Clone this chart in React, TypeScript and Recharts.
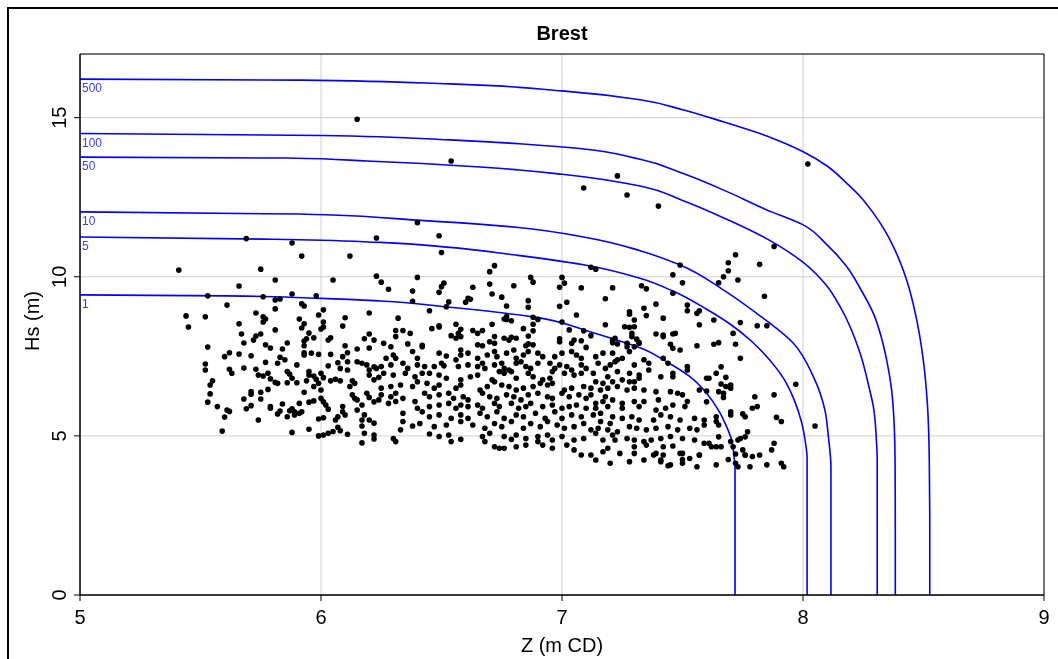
import React from 'react';
import { ComposedChart, Scatter, Line, XAxis, YAxis, CartesianGrid, ReferenceArea } from 'recharts';

type P = [number, number];

const titleText = 'Brest';
const xLabel = 'Z (m CD)';
const yLabel = 'Hs (m)';
const xTicks = [5, 6, 7, 8, 9];
const yTicks = [0, 5, 10, 15];
const xDomain: [number, number] = [5, 9];
const yDomain: [number, number] = [0, 17];

// Joint-probability contours (return period in years)
const curve1: P[] = [[5.0,9.43],[5.6,9.40],[6.0,9.32],[6.245,9.24],[6.523,9.05],[6.88,8.74],[7.116,8.27],[7.227,8.01],[7.324,7.77],[7.434,7.33],[7.531,6.86],[7.6,6.34],[7.649,5.81],[7.683,5.29],[7.704,4.87],[7.714,4.35],[7.718,3.93],[7.718,2.0],[7.718,0]];
const curve5: P[] = [[5.0,11.25],[5.8,11.18],[6.245,11.08],[6.522,10.93],[6.798,10.69],[7.116,10.34],[7.324,9.95],[7.46,9.55],[7.6,8.98],[7.7,8.5],[7.79,7.95],[7.86,7.4],[7.92,6.8],[7.965,6.1],[7.995,5.4],[8.01,4.8],[8.017,4.3],[8.017,2.0],[8.017,0]];
const curve10: P[] = [[5.0,12.04],[5.91,11.97],[6.397,11.78],[6.743,11.6],[7.116,11.21],[7.324,10.82],[7.49,10.37],[7.669,9.59],[7.808,8.85],[7.96,7.91],[8.043,6.86],[8.091,5.81],[8.105,5.0],[8.116,4.0],[8.116,2.0],[8.116,0]];
const curve50: P[] = [[5.0,13.76],[5.86,13.73],[6.19,13.64],[6.66,13.45],[7.0,13.22],[7.324,12.85],[7.5,12.4],[7.7,11.75],[7.86,11.15],[8.001,10.45],[8.1,9.7],[8.154,9.06],[8.237,7.6],[8.275,6.5],[8.292,5.92],[8.305,4.8],[8.308,4.24],[8.308,2.0],[8.308,0]];
const curve100: P[] = [[5.0,14.5],[6.0,14.44],[6.535,14.3],[7.0,14.08],[7.324,13.69],[7.5,13.25],[7.669,12.73],[7.85,12.1],[8.001,11.63],[8.1,11.0],[8.181,10.32],[8.24,9.6],[8.292,8.85],[8.325,8.1],[8.347,7.39],[8.365,6.6],[8.375,5.81],[8.382,4.24],[8.383,2.0],[8.383,0]];
const curve500: P[] = [[5.0,16.21],[5.913,16.18],[6.535,16.06],[7.0,15.84],[7.324,15.56],[7.5,15.25],[7.669,14.87],[7.85,14.42],[8.001,13.93],[8.1,13.48],[8.181,12.94],[8.24,12.5],[8.292,12.0],[8.34,11.45],[8.375,10.95],[8.43,9.9],[8.472,8.64],[8.499,7.39],[8.516,6.02],[8.524,4.24],[8.526,2.0],[8.526,0]];
const returnPeriods = ['1', '5', '10', '50', '100', '500'];
const contourSets: P[][] = [curve1, curve5, curve10, curve50, curve100, curve500];

// Observed events (Z, Hs)
const topOutliers: P[] = [[6.15,14.95],[6.54,13.64],[7.09,12.79],[7.23,13.17],[7.27,12.57],[7.40,12.22],[8.02,13.54],[6.40,11.70],[6.49,11.29],[6.50,10.76],[6.23,11.22],[5.69,11.20],[5.88,11.06],[5.92,10.65],[6.12,10.65],[5.41,10.21],[5.75,10.24],[6.70,10.16],[6.72,10.35]];
const leftUpper: P[] = [[5.81,9.90],[6.05,9.90],[6.23,10.02],[5.66,9.71],[5.53,9.40],[5.76,9.37],[5.81,9.27],[5.83,9.30],[5.88,9.46],[5.98,9.40],[5.61,9.11],[5.92,9.15],[5.93,9.08],[5.81,8.99],[6.01,8.96],[5.73,8.86],[5.99,8.80],[6.20,8.86],[5.44,8.77],[5.52,8.74],[5.76,8.74],[5.77,8.67],[5.76,8.58],[5.91,8.67],[6.10,8.71],[6.01,8.58],[6.01,8.42],[5.45,8.42],[5.66,8.52],[5.93,8.52],[5.92,8.39],[6.09,8.45],[5.81,8.33],[6.00,8.36],[5.95,8.23],[5.67,8.20],[5.75,8.20],[5.73,8.14],[5.72,8.01],[6.20,8.20],[5.97,8.08],[5.94,8.05],[5.93,7.98],[6.04,8.08],[6.03,8.01],[6.18,8.05],[6.22,8.01],[5.68,7.92],[5.86,7.92],[5.53,7.79],[5.77,7.86],[5.79,7.76],[5.84,7.73],[5.93,7.83],[6.10,7.83],[6.15,7.73],[6.20,7.76]];
const leftLower: P[] = [[5.60,7.49],[5.62,7.61],[5.66,7.57],[5.71,7.52],[5.52,7.26],[5.52,7.07],[5.62,7.09],[5.63,6.97],[5.68,7.13],[5.73,7.09],[5.77,7.31],[5.82,7.28],[5.83,7.47],[5.85,7.39],[5.90,7.23],[5.93,7.54],[5.93,7.61],[5.96,7.60],[5.99,7.56],[6.04,7.56],[6.09,7.49],[6.11,7.61],[6.11,7.33],[6.07,7.30],[6.08,7.12],[6.03,7.20],[6.15,7.33],[6.17,7.28],[6.19,7.23],[6.20,7.07],[6.22,7.17],[6.23,7.12],[5.74,6.91],[5.78,6.97],[5.76,6.88],[5.79,6.79],[5.81,6.68],[5.82,6.65],[5.86,7.02],[5.87,6.94],[5.88,6.81],[5.86,6.67],[5.90,6.67],[5.95,7.02],[5.95,6.91],[5.94,6.73],[5.97,6.88],[5.98,6.78],[6.00,6.97],[6.01,6.83],[6.04,6.73],[6.06,6.78],[6.08,6.73],[6.11,7.07],[6.13,6.73],[6.14,6.65],[6.12,6.55],[6.20,6.91],[6.22,6.76],[6.24,6.84],[5.55,6.73],[5.54,6.60],[5.54,6.32],[5.53,6.06],[5.57,5.92],[5.61,5.81],[5.62,5.77],[5.60,5.59],[5.59,5.15],[5.68,6.16],[5.71,6.39],[5.71,6.31],[5.75,6.37],[5.78,6.46],[5.75,6.16],[5.69,5.85],[5.71,5.95],[5.79,5.92],[5.79,5.87],[5.74,5.50],[5.82,5.69],[5.83,5.78],[5.84,6.00],[5.86,5.60],[5.87,5.79],[5.88,5.85],[5.89,5.76],[5.91,5.71],[5.92,5.76],[5.89,5.66],[5.88,5.11],[5.91,6.02],[5.93,6.37],[5.95,6.06],[5.97,6.10],[5.95,5.21],[5.97,6.55],[5.99,6.65],[6.00,6.44],[6.00,6.18],[6.01,6.07],[6.02,5.97],[6.03,5.84],[5.99,5.53],[6.01,5.57],[5.99,5.00],[6.01,5.03],[6.03,5.08],[6.05,5.14],[6.07,5.27],[6.08,5.16],[6.06,5.50],[6.07,5.60],[6.09,5.92],[6.09,5.76],[6.10,5.66],[6.11,5.05],[6.13,6.29],[6.14,6.18],[6.15,6.13],[6.17,5.97],[6.19,6.34],[6.20,6.21],[6.22,6.07],[6.24,6.13],[6.15,5.81],[6.18,5.66],[6.17,5.50],[6.20,5.50],[6.22,5.40],[6.17,5.31],[6.18,5.08],[6.22,5.03],[6.22,4.90],[6.17,4.78]];
const midUpper: P[] = [[6.25,9.83],[6.28,9.61],[6.40,9.98],[6.51,9.80],[6.50,9.69],[6.49,9.51],[6.38,9.55],[6.38,9.23],[6.63,9.67],[6.70,9.77],[6.71,9.46],[6.80,9.72],[6.87,9.98],[6.88,9.83],[7.00,9.98],[7.01,9.80],[6.99,9.67],[7.08,9.65],[6.75,9.36],[6.86,9.25],[6.86,9.04],[7.02,9.20],[6.99,9.07],[6.61,9.32],[6.62,9.29],[6.60,9.20],[6.53,9.21],[6.52,9.06],[6.45,8.93],[6.77,9.08],[6.32,8.70],[6.77,8.75],[6.77,8.66],[6.76,8.67],[6.79,8.62],[6.88,8.73],[6.90,8.66],[7.06,8.80],[7.00,8.58],[6.88,8.51],[6.31,8.31],[6.34,8.31],[6.31,8.12],[6.37,8.22],[6.46,8.37],[6.49,8.46],[6.49,8.42],[6.56,8.51],[6.58,8.35],[6.57,8.22],[6.63,8.31],[6.65,8.22],[6.67,8.31],[6.71,8.51],[6.84,8.37],[6.88,8.30],[6.86,8.14],[7.03,8.33],[7.09,8.30],[6.54,8.15],[6.58,8.12],[6.56,8.07],[6.72,8.12],[6.76,8.07],[6.78,8.01],[6.79,8.10],[6.81,8.07],[6.99,8.05],[6.99,7.96],[7.05,8.01],[7.04,7.91],[7.08,7.99],[6.26,7.91],[6.29,7.80],[6.36,7.89],[6.42,7.80],[6.42,7.85],[6.65,7.86],[6.67,7.83],[6.70,7.96],[6.72,7.91],[6.85,7.83],[6.88,7.86],[6.86,7.89],[7.10,7.78]];
const midLower: P[] = [[6.27,7.44],[6.30,7.54],[6.31,7.44],[6.38,7.65],[6.40,7.44],[6.49,7.60],[6.52,7.51],[6.58,7.70],[6.58,7.54],[6.61,7.60],[6.65,7.44],[6.69,7.54],[6.72,7.65],[6.73,7.49],[6.77,7.60],[6.80,7.70],[6.81,7.44],[6.84,7.54],[6.86,7.65],[6.90,7.60],[6.92,7.49],[6.97,7.49],[7.00,7.60],[7.04,7.65],[7.06,7.54],[7.08,7.44],
[6.25,7.18],[6.29,7.23],[6.34,7.28],[6.36,7.12],[6.40,7.23],[6.43,7.18],[6.47,7.18],[6.50,7.28],[6.51,7.20],[6.56,7.39],[6.57,7.18],[6.61,7.23],[6.65,7.18],[6.67,7.28],[6.68,7.12],[6.72,7.23],[6.75,7.28],[6.76,7.12],[6.78,7.07],[6.81,7.28],[6.83,7.33],[6.85,7.18],[6.87,7.12],[6.90,7.28],[6.95,7.28],[6.97,7.12],[6.99,7.23],[7.02,7.18],[7.04,7.07],[7.08,7.23],[7.10,7.12],
[6.26,6.97],[6.30,6.91],[6.35,6.97],[6.39,6.86],[6.42,6.97],[6.45,6.97],[6.49,6.91],[6.52,6.81],[6.58,6.76],[6.62,6.86],[6.65,6.91],[6.71,6.76],[6.74,7.02],[6.76,6.97],[6.79,7.02],[6.81,6.81],[6.86,6.97],[6.88,6.86],[6.92,6.76],[6.95,6.81],[6.96,7.02],[7.01,6.97],[7.05,6.91],[7.08,6.97],
[6.25,6.50],[6.29,6.55],[6.33,6.60],[6.38,6.55],[6.40,6.70],[6.44,6.65],[6.47,6.50],[6.49,6.60],[6.56,6.50],[6.58,6.60],[6.66,6.44],[6.69,6.55],[6.72,6.70],[6.75,6.60],[6.78,6.55],[6.81,6.44],[6.84,6.50],[6.88,6.55],[6.91,6.65],[6.94,6.60],[6.96,6.65],[7.01,6.44],[7.04,6.50],[7.09,6.55],
[6.25,6.29],[6.29,6.23],[6.31,6.34],[6.34,6.18],[6.39,6.08],[6.43,6.34],[6.45,6.23],[6.49,6.29],[6.53,6.34],[6.55,6.18],[6.59,6.23],[6.61,6.13],[6.67,6.34],[6.70,6.23],[6.73,6.18],[6.77,6.29],[6.80,6.23],[6.83,6.13],[6.86,6.29],[6.90,6.34],[6.94,6.23],[6.96,6.18],[7.00,6.34],[7.03,6.23],[7.07,6.29],[7.10,6.18],
[6.28,6.02],[6.31,6.08],[6.40,5.87],[6.45,5.92],[6.49,5.97],[6.53,6.02],[6.56,5.87],[6.58,5.97],[6.61,5.92],[6.65,5.97],[6.67,5.87],[6.72,6.02],[6.74,5.92],[6.79,6.02],[6.82,5.87],[6.85,5.92],[6.87,6.02],[6.92,5.92],[6.96,5.97],[7.00,5.87],[7.03,5.92],[7.06,5.97],[7.10,5.87],
[6.34,5.71],[6.42,5.76],[6.45,5.60],[6.49,5.66],[6.54,5.55],[6.58,5.66],[6.61,5.55],[6.66,5.71],[6.69,5.60],[6.73,5.76],[6.76,5.55],[6.81,5.66],[6.84,5.60],[6.89,5.71],[6.93,5.55],[6.97,5.76],[7.00,5.55],[7.04,5.66],[7.08,5.60],
[6.34,5.45],[6.38,5.31],[6.41,5.39],[6.47,5.29],[6.52,5.34],[6.58,5.45],[6.63,5.34],[6.68,5.24],[6.72,5.39],[6.75,5.29],[6.79,5.45],[6.84,5.24],[6.87,5.39],[6.91,5.29],[6.94,5.45],[6.98,5.34],[7.01,5.24],[7.05,5.29],[7.09,5.39],
[6.30,4.92],[6.33,5.19],[6.45,5.06],[6.49,4.98],[6.53,5.03],[6.54,4.82],[6.58,4.89],[6.67,4.98],[6.70,5.08],[6.76,4.98],[6.79,4.89],[6.81,5.03],[6.85,4.92],[6.90,4.98],[6.94,5.03],[6.96,4.87],[7.00,4.98],[7.05,4.87],[7.09,4.92],
[6.31,4.82],[6.68,4.82],[6.72,4.66],[6.74,4.61],[6.76,4.61],[6.81,4.66],[6.85,4.71],[6.90,4.82],[6.92,4.71],[6.96,4.61],[7.02,4.71],[7.05,4.56],[7.08,4.40]];
const rightUpper: P[] = [[7.88,10.95],[7.72,10.69],[7.82,10.39],[7.69,10.44],[7.69,10.19],[7.67,10.00],[7.73,9.90],[7.65,9.81],[7.49,10.37],[7.46,10.06],[7.50,9.81],[7.12,10.30],[7.14,10.24],[7.21,9.65],[7.33,9.72],[7.35,9.62],[7.18,9.31],[7.46,9.48],[7.84,9.39],[7.52,9.11],[7.52,8.93],[7.57,8.93],[7.56,8.85],[7.39,9.14],[7.34,9.01],[7.35,8.78],[7.28,8.90],[7.28,8.82],[7.30,8.64],[7.42,8.70],[7.63,8.64],[7.74,8.56],[7.81,8.46],[7.85,8.46],[7.57,8.49],[7.18,8.49],[7.26,8.43],[7.28,8.41],[7.30,8.43],[7.29,8.22],[7.29,8.12],[7.31,8.04],[7.32,7.91],[7.12,8.15],[7.22,8.07],[7.21,8.01],[7.23,7.89],[7.27,7.80],[7.39,8.20],[7.42,8.17],[7.42,8.12],[7.46,8.20],[7.47,8.22],[7.71,8.22],[7.45,7.88],[7.46,7.75],[7.56,7.83],[7.63,7.88],[7.65,7.93],[7.72,7.88],[7.49,7.70]];
const rightDense: P[] = [[7.21,7.93],[7.27,7.91],[7.30,7.80],[7.32,7.93],[7.14,7.49],[7.17,7.60],[7.21,7.60],[7.28,7.65],[7.22,7.33],[7.25,7.44],
[7.15,7.28],[7.20,7.23],[7.23,7.39],[7.30,7.23],[7.34,7.39],[7.36,7.28],[7.42,7.44],[7.44,7.28],[7.36,7.07],[7.18,7.12],[7.13,6.97],[7.19,6.86],[7.23,7.02],
[7.28,6.97],[7.32,6.91],[7.25,6.76],[7.28,6.70],[7.30,6.70],[7.32,6.81],[7.14,6.70],[7.17,6.65],[7.21,6.70],[7.41,6.86],[7.46,6.86],[7.46,6.97],[7.52,7.07],[7.52,7.18],
[7.12,6.50],[7.16,6.44],[7.19,6.50],[7.23,6.55],[7.27,6.44],[7.30,6.50],[7.34,6.44],[7.39,6.39],[7.45,6.39],[7.48,6.34],[7.50,6.29],[7.12,6.29],[7.18,6.23],
[7.14,6.02],[7.17,6.08],[7.21,6.13],[7.25,6.02],[7.30,6.08],[7.34,6.08],[7.40,6.13],[7.46,5.97],[7.52,6.08],[7.51,5.92],[7.14,5.87],[7.19,5.92],[7.25,5.87],[7.32,5.92],[7.39,5.81],[7.43,5.87],
[7.13,5.66],[7.16,5.71],[7.21,5.60],[7.25,5.55],[7.29,5.60],[7.32,5.50],[7.38,5.50],[7.41,5.66],[7.45,5.60],[7.49,5.50],[7.55,5.55],[7.59,5.50],[7.16,5.45],[7.20,5.39],
[7.12,5.19],[7.15,5.24],[7.19,5.19],[7.23,5.13],[7.28,5.29],[7.31,5.24],[7.35,5.19],[7.39,5.24],[7.44,5.29],[7.48,5.19],[7.53,5.24],[7.56,5.19],[7.59,5.34],[7.21,5.03],[7.14,5.08],
[7.17,4.87],[7.22,4.87],[7.27,4.92],[7.30,4.87],[7.34,4.82],[7.37,4.87],[7.41,4.92],[7.45,4.98],[7.50,4.92],[7.55,4.87],[7.59,4.77],[7.62,4.66],[7.19,4.61],[7.30,4.66],[7.35,4.71],[7.42,4.66],[7.46,4.68],
[7.12,4.40],[7.17,4.50],[7.24,4.45],[7.30,4.45],[7.38,4.40],[7.42,4.40],[7.49,4.45],[7.53,4.29],[7.57,4.40],[7.14,4.24],[7.20,4.14],[7.28,4.19],[7.34,4.24],[7.41,4.24],[7.45,4.09],[7.50,4.14],[7.56,4.03]];
const rightEdge: P[] = [[7.74,7.44],[7.66,7.17],[7.64,6.97],[7.61,6.81],[7.60,6.81],[7.68,6.84],[7.66,6.63],[7.68,6.55],[7.70,6.50],[7.70,6.60],[7.65,6.39],[7.67,6.34],[7.67,6.21],[7.60,6.41],[7.57,6.44],[7.60,6.07],[7.80,6.23],[7.88,6.29],[7.97,6.62],[7.81,5.92],[7.79,5.87],[7.70,5.76],[7.70,5.66],[7.75,5.69],[7.76,5.60],[7.64,5.60],[7.64,5.45],[7.65,5.34],[7.89,5.58],[7.91,5.45],[7.77,5.13],[7.76,4.97],[7.74,4.92],[7.73,4.87],[7.70,4.82],[7.71,4.66],[7.75,4.56],[7.65,4.97],[7.66,4.66],[7.64,4.66],[7.61,4.77],[7.88,4.77],[7.87,4.56],[7.79,4.35],[7.76,4.40],[7.82,4.40],[7.85,4.09],[7.91,4.14],[7.92,4.03],[7.69,4.26],[7.64,4.09],[7.73,4.03],[7.78,4.03],[8.05,5.31],[7.39,4.45],[7.50,4.45],[7.57,4.40],[7.41,4.19],[7.44,4.06],[7.50,4.26],[7.72,4.43],[7.72,4.14],[7.76,4.40]];

const eventSets: P[][] = [topOutliers, leftUpper, leftLower, midUpper, midLower, rightUpper, rightDense, rightEdge];

const toXY = (arr: P[]) => arr.map(([x, y]) => ({ x, y }));
const points = eventSets.flatMap(toXY);
const contourLabels = contourSets.map((c, i) => ({ x: c[0][0], y: c[0][1], label: returnPeriods[i] }));

const FONT = '"Liberation Sans", Arial, sans-serif';

const XTick = (props: any) => {
  const { x, y, payload } = props;
  return (
    <text x={x} y={y + 23} textAnchor="middle" fontSize={20} fontFamily={FONT} fill="#000">
      {payload.value}
    </text>
  );
};

const YTick = (props: any) => {
  const { x, y, payload } = props;
  const bx = x - 8;
  return (
    <text x={bx} y={y} transform={`rotate(-90 ${bx} ${y})`} textAnchor="middle" fontSize={20} fontFamily={FONT} fill="#000">
      {payload.value}
    </text>
  );
};

const Dot = (props: any) => {
  const { cx, cy } = props;
  if (cx == null || cy == null) return null;
  return <circle cx={cx} cy={cy} r={2.8} fill="#000" />;
};

const ContourLabel = (props: any) => {
  const { cx, cy } = props;
  const label = props.payload?.label ?? props.label;
  if (cx == null || cy == null) return null;
  return (
    <text x={cx + 2} y={cy + 13} fontSize={12} fontFamily={FONT} fill="#3b3bff">
      {label}
    </text>
  );
};

export default function App() {
  return (
    <div style={{ position: 'relative', width: 1042, height: 651, fontFamily: FONT }}>
      <style>{'html,body{overflow:hidden;}'}</style>
      <div
        style={{
          position: 'fixed', left: 7, top: 7, width: 1200, height: 900,
          borderTop: '2.5px solid #000', borderLeft: '2.5px solid #000', pointerEvents: 'none',
        }}
      />
      <ComposedChart width={1042} height={651} margin={{ top: 46, right: 6, bottom: 0, left: 0 }}>
        <CartesianGrid stroke="#d0d0d0" strokeWidth={1} />
        <XAxis
          type="number" dataKey="x" domain={xDomain} ticks={xTicks} interval={0} allowDataOverflow
          height={64} tickSize={6} tickMargin={0} tick={<XTick />}
          axisLine={{ stroke: '#000', strokeWidth: 1 }} tickLine={{ stroke: '#000', strokeWidth: 1 }}
        />
        <YAxis
          type="number" dataKey="y" domain={yDomain} ticks={yTicks} interval={0} allowDataOverflow
          width={72} tickSize={6} tickMargin={0} tick={<YTick />}
          axisLine={{ stroke: '#000', strokeWidth: 1 }} tickLine={{ stroke: '#000', strokeWidth: 1 }}
        />
        {contourSets.map((c, i) => (
          <Line
            key={returnPeriods[i]} data={toXY(c)} dataKey="y" type="monotoneY"
            stroke="#0000ff" strokeWidth={1.6} dot={false} activeDot={false}
            isAnimationActive={false} legendType="none"
          />
        ))}
        <Scatter data={points} shape={<Dot />} isAnimationActive={false} />
        <Scatter data={contourLabels} shape={<ContourLabel />} isAnimationActive={false} />
        <ReferenceArea x1={5} x2={9} y1={0} y2={17} fill="none" stroke="#000" strokeWidth={1} ifOverflow="visible" />
      </ComposedChart>
      <div style={{ position: 'absolute', left: 454, top: 13, width: 200, height: 24, lineHeight: '24px', textAlign: 'center', fontSize: 20, fontWeight: 'bold', color: '#000' }}>
        {titleText}
      </div>
      <div style={{ position: 'absolute', left: 454, top: 625, width: 200, height: 24, lineHeight: '24px', textAlign: 'center', fontSize: 20, color: '#000' }}>
        {xLabel}
      </div>
      <div style={{ position: 'absolute', left: -26, top: 301, width: 100, height: 24, lineHeight: '24px', textAlign: 'center', fontSize: 20, color: '#000', transform: 'rotate(-90deg)' }}>
        {yLabel}
      </div>
    </div>
  );
}
